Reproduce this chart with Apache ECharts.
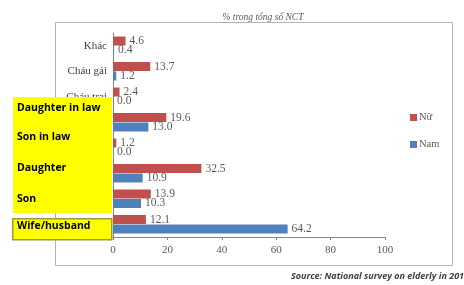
<!DOCTYPE html>
<html><head><meta charset="utf-8">
<script src="https://cdn.jsdelivr.net/npm/echarts@6/dist/echarts.min.js"></script>
<style>html,body{margin:0;padding:0;background:#fff}#c{width:464px;height:285px}</style>
</head><body><div id="c"></div>
<script>
const categories = ['Vợ/chồng','Con trai','Con gái','Con rể','Con dâu','Cháu trai','Cháu gái','Khác'];
const nu = [12.1, 13.9, 32.5, 1.2, 19.6, 2.4, 13.7, 4.6];
const nam = [64.2, 10.3, 10.9, 0.0, 13.0, 0.0, 1.2, 0.4];
const xTicks = [0, 20, 40, 60, 80, 100];
const overlayLabels = ['Daughter in law', 'Son in law', 'Daughter', 'Son'];
const boxLabel = 'Wife/husband';
const title = '% trong tổng số NCT';
const source = 'Source: National survey on elderly in 2011';

const chart = echarts.init(document.getElementById('c'));
const serif = 'Liberation Serif';
const lblStyle = {show: true, position: 'right', color: '#595959', fontFamily: serif, fontSize: 11.5, distance: 4,
  formatter: p => p.value.toFixed(1)};
const overlayY = [110, 139, 170, 201];
chart.setOption({
  animation: false,
  title: {text: title, left: 258, top: 7, textAlign: 'center',
    textStyle: {fontFamily: serif, fontStyle: 'italic', fontWeight: 'normal', fontSize: 9.5, color: '#595959'}},
  legend: {orient: 'vertical', left: 405, top: 107, itemWidth: 7, itemHeight: 7, itemGap: 16,
    data: ['Nữ', 'Nam'], icon: 'rect',
    textStyle: {fontFamily: serif, fontSize: 10.5, color: '#595959', padding: [0,0,0,-3]}},
  grid: {left: 113, right: 79, top: 33, bottom: 48},
  xAxis: {type: 'value', min: 0, max: 100, interval: 20,
    axisLine: {show: true, lineStyle: {color: '#868686'}},
    axisTick: {show: true, length: 3, lineStyle: {color: '#868686'}},
    splitLine: {show: false},
    axisLabel: {color: '#595959', fontFamily: serif, fontSize: 11, margin: 8,
      formatter: v => xTicks.includes(v) ? String(v) : ''}},
  yAxis: {type: 'category', data: categories,
    axisLine: {show: true, lineStyle: {color: '#868686'}},
    axisTick: {show: false},
    axisLabel: {color: '#404040', fontFamily: serif, fontSize: 11, margin: 6}},
  series: [
    {name: 'Nữ', type: 'bar', data: nu, itemStyle: {color: '#C0504D'}, barWidth: 9, barGap: '5%',
     label: lblStyle},
    {name: 'Nam', type: 'bar', data: nam, itemStyle: {color: '#4F81BD'}, barWidth: 9, barGap: '5%',
     label: lblStyle}
  ],
  graphic: [
    {type: 'rect', left: 53, top: 20, shape: {width: 397, height: 243}, z: -1,
      style: {fill: 'none', stroke: '#b3b3b3', lineWidth: 1}},
    {type: 'rect', left: 13, top: 97, z: 100, shape: {width: 99, height: 116}, style: {fill: '#FFFF00'}},
    {type: 'rect', left: 12, top: 218, z: 100, shape: {width: 99, height: 21},
      style: {fill: '#FFFF00', stroke: '#9a9a40', lineWidth: 1.5}},
    ...overlayLabels.map((t, i) => ({type: 'text', left: 17, top: overlayY[i] - 7, z: 101,
      style: {text: t, fontFamily: 'Open Sans', fontWeight: 'bold', fontSize: 10.5, fill: '#000'}})),
    {type: 'text', left: 17, top: 221, z: 101,
      style: {text: boxLabel, fontFamily: 'Open Sans', fontWeight: 'bold', fontSize: 10.5, fill: '#000'}},
    {type: 'text', left: 291, top: 272, z: 101,
      style: {text: source, fontFamily: 'Open Sans', fontWeight: 'bold', fontStyle: 'italic', fontSize: 9, fill: '#404040'}}
  ]
});
</script></body></html>
